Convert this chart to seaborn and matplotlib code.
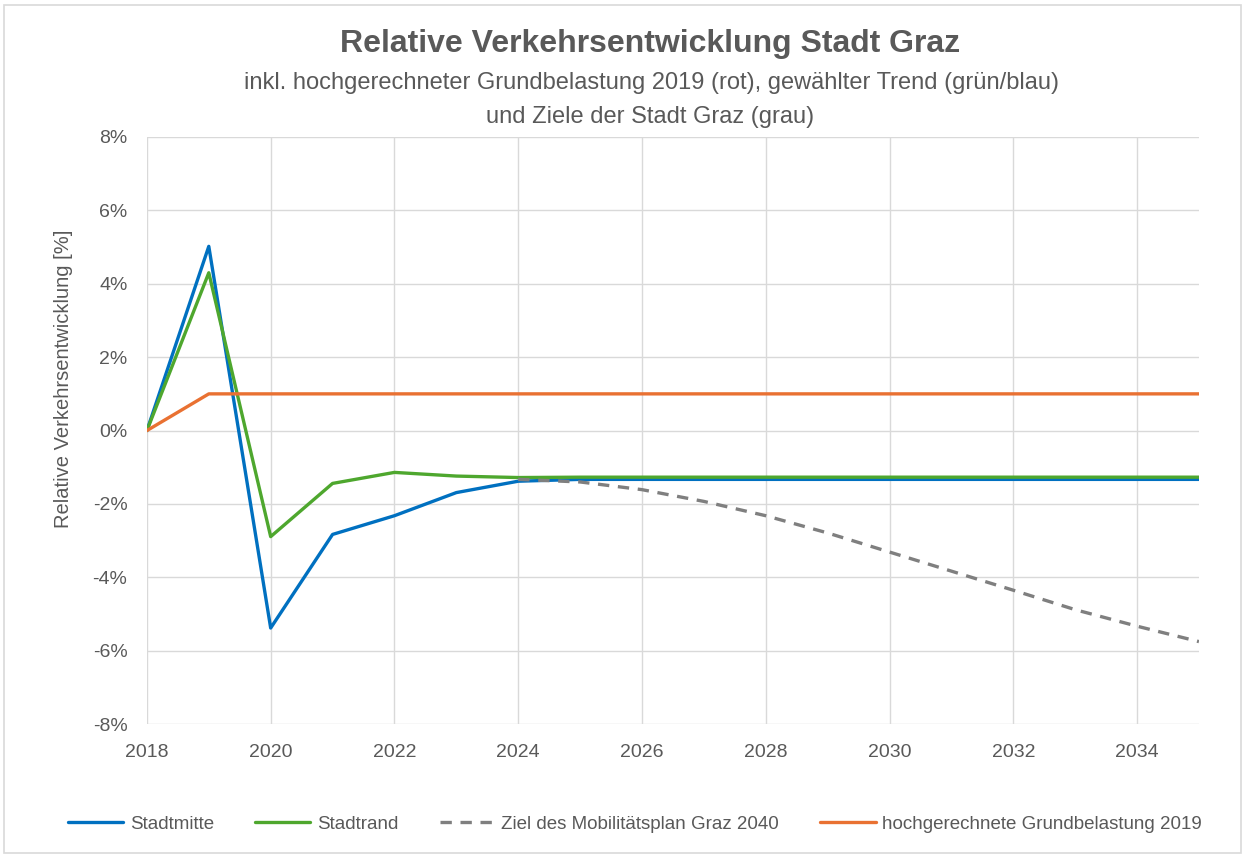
import numpy as np
import pandas as pd
import matplotlib
matplotlib.use("Agg")
import matplotlib.pyplot as plt
import seaborn as sns
from matplotlib.patches import Rectangle

# --- Daten ---
years = list(range(2018, 2036))
stadtmitte = [0.0, 5.02, -5.38, -2.83, -2.32, -1.69, -1.38] + [-1.33] * 11
stadtrand = [0.0, 4.30, -2.89, -1.44, -1.14, -1.24, -1.28] + [-1.27] * 11
ziel_years = list(range(2024, 2036))
ziel = [-1.33, -1.40, -1.61, -1.93, -2.32, -2.79, -3.31, -3.83, -4.35, -4.88, -5.33, -5.75]
grundbelastung = [0.0] + [1.0] * 17

series_names = ["Stadtmitte", "Stadtrand", "Ziel des Mobilitätsplan Graz 2040",
                "hochgerechnete Grundbelastung 2019"]
colors = ["#0070C0", "#4EA72E", "#7F7F7F", "#E97132"]
ytick_vals = [-8, -6, -4, -2, 0, 2, 4, 6, 8]
xtick_vals = list(range(2018, 2035, 2))

df = pd.concat([
    pd.DataFrame({"Jahr": years, "Wert": stadtmitte, "Reihe": series_names[0]}),
    pd.DataFrame({"Jahr": years, "Wert": stadtrand, "Reihe": series_names[1]}),
    pd.DataFrame({"Jahr": ziel_years, "Wert": ziel, "Reihe": series_names[2]}),
    pd.DataFrame({"Jahr": years, "Wert": grundbelastung, "Reihe": series_names[3]}),
], ignore_index=True)

sns.set_style("white")
plt.rcParams["font.family"] = ["Liberation Sans", "DejaVu Sans"]
grey_txt = "#595959"

fig = plt.figure(figsize=(12.45, 8.56), dpi=100)
ax = fig.add_axes([0.118, 0.154, 0.845, 0.686])

palette = dict(zip(series_names, colors))
dashes = {series_names[0]: "", series_names[1]: "", series_names[2]: (3.4, 2.6), series_names[3]: ""}
sns.lineplot(data=df, x="Jahr", y="Wert", hue="Reihe", style="Reihe",
             hue_order=series_names, style_order=series_names,
             palette=palette, dashes=dashes, linewidth=2.4, ax=ax)

ax.set_xlim(2018, 2035)
ax.set_ylim(-8, 8)
ax.set_xticks(xtick_vals)
ax.set_yticks(ytick_vals)
ax.set_yticklabels([f"{v}%" for v in ytick_vals])
ax.grid(True, color="#D9D9D9", linewidth=1)
ax.set_axisbelow(True)
for s in ax.spines.values():
    s.set_visible(False)
ax.tick_params(axis="both", length=0, labelsize=14, colors=grey_txt)
ax.tick_params(axis="x", pad=14)
ax.tick_params(axis="y", pad=14)
ax.set_xlabel("")
ax.set_ylabel("")

handles, labels = ax.get_legend_handles_labels()
ax.get_legend().remove()
fig.legend(handles, labels, loc="center", bbox_to_anchor=(0.51, 0.037), ncol=4,
           frameon=False, fontsize=13.5, handlelength=2.95, handletextpad=0.35,
           columnspacing=2.2, labelcolor=grey_txt)

fig.text(0.522, 0.949, "Relative Verkehrsentwicklung Stadt Graz", ha="center", va="center",
         fontsize=23, fontweight="bold", color=grey_txt)
fig.text(0.523, 0.903, "inkl. hochgerechneter Grundbelastung 2019 (rot), gewählter Trend (grün/blau)",
         ha="center", va="center", fontsize=17, color=grey_txt)
fig.text(0.522, 0.863, "und Ziele der Stadt Graz (grau)",
         ha="center", va="center", fontsize=17, color=grey_txt)
fig.text(0.051, 0.557, "Relative Verkehrsentwicklung [%]", rotation=90, ha="center", va="center",
         fontsize=14.5, color=grey_txt)

fig.patches.append(Rectangle((0.003, 0.003), 0.994, 0.991, transform=fig.transFigure,
                             fill=False, edgecolor="#D9D9D9", linewidth=1.2))

fig.savefig("out.png", dpi=100)
